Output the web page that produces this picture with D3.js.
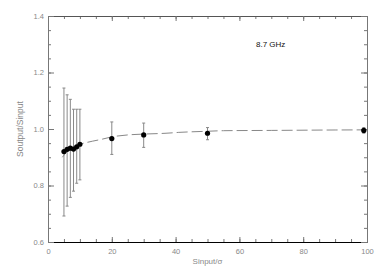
<!DOCTYPE html>
<html><head><meta charset="utf-8">
<script src="https://cdn.jsdelivr.net/npm/d3@7"></script>
<style>body{margin:0;background:#fff}svg{display:block}text{font-family:"Liberation Sans",Arial,sans-serif}</style>
</head><body><div id="chart"></div>
<script>
// Data
const pointX = [5, 6, 7, 8, 9, 10, 20, 30, 50, 99];
const pointY = [0.920, 0.928, 0.932, 0.929, 0.937, 0.946, 0.966, 0.979, 0.985, 0.995];
const errLow  = [0.692, 0.727, 0.758, 0.780, 0.808, 0.820, 0.910, 0.935, 0.962, 0.985];
const errHigh = [1.145, 1.121, 1.105, 1.070, 1.070, 1.070, 1.025, 1.021, 1.005, 1.005];
const curveX = [4.5, 6, 8, 10, 12, 14, 17, 20, 25, 30, 37, 41, 50, 55, 70, 90, 100];
const curveY = [0.900, 0.920, 0.936, 0.946, 0.952, 0.957, 0.964, 0.972, 0.979, 0.982, 0.985, 0.988, 0.992, 0.994, 0.995, 0.9965, 0.997];
const xTicks = [0, 20, 40, 60, 80, 100];
const yTicks = [0.6, 0.8, 1.0, 1.2, 1.4];
const labelText = "8.7 GHz";
const xTitle = "Sinput/\u03c3";
const yTitle = "Soutput/Sinput";

const W = 382, H = 273;
const L = 48, R = 367, T = 16, B = 242;
const svg = d3.select("#chart").append("svg").attr("width", W).attr("height", H);
const x = d3.scaleLinear().domain([0, 100]).range([L, R]);
const y = d3.scaleLinear().domain([0.6, 1.4]).range([B, T]);

const tickCol = "#777", labCol = "#888";
const xMinor = d3.range(0, 100.01, 5);
const yMinor = d3.range(0.6, 1.401, 0.05);

// Axes with inward ticks
const gB = svg.append("g").attr("transform", `translate(0,${B})`)
  .call(d3.axisBottom(x).tickValues(xMinor).tickSize(-3).tickFormat(""));
const gBm = svg.append("g").attr("transform", `translate(0,${B})`)
  .call(d3.axisBottom(x).tickValues(xTicks).tickSize(-5).tickPadding(10).tickFormat(d3.format("d")));
const gT = svg.append("g").attr("transform", `translate(0,${T})`)
  .call(d3.axisTop(x).tickValues(xMinor).tickSize(-3).tickFormat(""));
const gTm = svg.append("g").attr("transform", `translate(0,${T})`)
  .call(d3.axisTop(x).tickValues(xTicks).tickSize(-5).tickFormat(""));
const gL = svg.append("g").attr("transform", `translate(${L},0)`)
  .call(d3.axisLeft(y).tickValues(yMinor).tickSize(-3).tickFormat(""));
const gLm = svg.append("g").attr("transform", `translate(${L},0)`)
  .call(d3.axisLeft(y).tickValues(yTicks).tickSize(-6).tickPadding(4).tickFormat(d3.format(".1f")));
const gR = svg.append("g").attr("transform", `translate(${R},0)`)
  .call(d3.axisRight(y).tickValues(yMinor).tickSize(-3).tickFormat(""));
const gRm = svg.append("g").attr("transform", `translate(${R},0)`)
  .call(d3.axisRight(y).tickValues(yTicks).tickSize(-6).tickFormat(""));

[gB, gBm, gT, gTm, gL, gLm, gR, gRm].forEach(g => {
  g.selectAll(".tick line").attr("stroke", tickCol);
  g.selectAll(".tick text").attr("fill", labCol).style("font-size", "7.5px");
  g.select(".domain").attr("stroke", "#777");
});
gBm.selectAll(".tick text").attr("dy", "0.2em");
gB.select(".domain").attr("stroke", "#000");
gBm.select(".domain").attr("stroke", "#000");
gT.select(".domain").attr("stroke", "#555");
gTm.select(".domain").attr("stroke", "#555");
gLm.selectAll(".tick text").attr("dx", "0");

// Titles
svg.append("text").attr("x", (L + R) / 2).attr("y", 264).attr("text-anchor", "middle")
  .attr("fill", labCol).style("font-size", "8px").text(xTitle);
svg.append("text").attr("transform", `translate(23,${(T + B) / 2}) rotate(-90)`)
  .attr("text-anchor", "middle").attr("fill", labCol).style("font-size", "8.5px").text(yTitle);
svg.append("text").attr("x", 256).attr("y", 47).attr("fill", "#111")
  .style("font-size", "8px").text(labelText);

// Fit curve (dashed)
const line = d3.line().x((d, i) => x(curveX[i])).y(d => y(d)).curve(d3.curveMonotoneX);
svg.append("path").datum(curveY).attr("d", line).attr("fill", "none")
  .attr("stroke", "#888").attr("stroke-width", 1).attr("stroke-dasharray", "11,4");

// Error bars
const eb = svg.append("g").attr("stroke", "#888").attr("stroke-width", 1);
pointX.forEach((px, i) => {
  const cx = x(px);
  eb.append("line").attr("x1", cx).attr("x2", cx).attr("y1", y(errLow[i])).attr("y2", y(errHigh[i]));
  [errLow[i], errHigh[i]].forEach(v => {
    eb.append("line").attr("x1", cx - 1.5).attr("x2", cx + 1.5).attr("y1", y(v)).attr("y2", y(v));
  });
});

// Points
svg.append("g").selectAll("circle").data(pointY).join("circle")
  .attr("cx", (d, i) => x(pointX[i])).attr("cy", d => y(d)).attr("r", 2.6).attr("fill", "#000");
</script></body></html>
